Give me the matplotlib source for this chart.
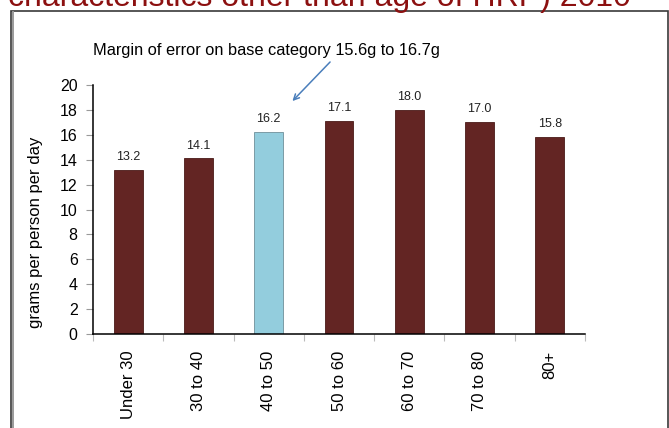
import matplotlib.pyplot as plt
from matplotlib.patches import Rectangle
from matplotlib.lines import Line2D

plt.rcParams["font.family"] = ["Liberation Sans", "DejaVu Sans"]

age_groups = ["Under 30", "30 to 40", "40 to 50", "50 to 60", "60 to 70", "70 to 80", "80+"]
grams = [13.2, 14.1, 16.2, 17.1, 18.0, 17.0, 15.8]
base_group = "40 to 50"
y_ticks = list(range(0, 21, 2))

MAROON = "#632523"
LIGHT_BLUE = "#93CDDD"
TITLE_RED = "#8C1010"

W, H = 669, 428
fig = plt.figure(figsize=(W / 100, H / 100), dpi=100)

# slide title, only its lower part falls inside the image
fig.text(8 / W, 1 - 6 / H, "characteristics other than age of HRP) 2010",
         color=TITLE_RED, fontsize=23, ha="left", va="baseline")

# chart frame
fig.add_artist(Rectangle((11 / W, -0.1), (668 - 11) / W, 1.1 - 11 / H,
                         transform=fig.transFigure, fill=False,
                         edgecolor="#3a3a3a", linewidth=1.2))
fig.add_artist(Line2D([12.8 / W, 12.8 / W], [0, 1 - 12 / H], transform=fig.transFigure,
                      color="#9a9a9a", linewidth=1.4))

ax = fig.add_axes([93 / W, 1 - 334 / H, (585 - 93) / W, (334 - 85) / H])
colors = [LIGHT_BLUE if g == base_group else MAROON for g in age_groups]
edges = ["#6f8f9a" if g == base_group else "#4a1a18" for g in age_groups]
x = range(len(age_groups))
bars = ax.bar(x, grams, width=0.41, color=colors, edgecolor=edges, linewidth=0.6, zorder=2)

for xi, v in zip(x, grams):
    ax.annotate(f"{v:.1f}", (xi, v), xytext=(0, 5), textcoords="offset points",
                ha="center", va="bottom", fontsize=9, color="#222222")

ax.set_xlim(-0.5, len(age_groups) - 0.5)
ax.set_ylim(0, 20)
ax.set_yticks(y_ticks)
ax.tick_params(axis="y", labelsize=11.5, length=5, color="#999999", pad=6)

# category boundaries carry the x ticks; labels sit at the centres
ax.set_xticks([i - 0.5 for i in range(len(age_groups) + 1)])
ax.set_xticklabels([])
ax.set_xticks(list(x), minor=True)
ax.set_xticklabels(age_groups, minor=True, rotation=90, fontsize=12, va="top", ha="center")
ax.tick_params(axis="x", which="major", length=5, color="#bbbbbb")
ax.tick_params(axis="x", which="minor", length=0, pad=12)

for side in ("top", "right"):
    ax.spines[side].set_visible(False)
ax.spines["left"].set_linewidth(1.1)
ax.spines["bottom"].set_linewidth(1.1)

fig.text(36 / W, 1 - 232 / H, "grams per person per day", rotation=90,
         fontsize=12, ha="center", va="center")

# note about the base category, pointing just above its bar
base_idx = age_groups.index(base_group)
ax.annotate("", xy=(base_idx + 0.31, grams[base_idx] + 2.35), xycoords="data",
            xytext=(332 / W, 1 - 60 / H), textcoords="figure fraction",
            arrowprops=dict(arrowstyle="->", color="#4a7ebb", lw=1.1))
fig.text(93 / W, 1 - 55 / H, "Margin of error on base category 15.6g to 16.7g",
         fontsize=11.8, ha="left", va="baseline")

fig.savefig("out.png", dpi=100)
